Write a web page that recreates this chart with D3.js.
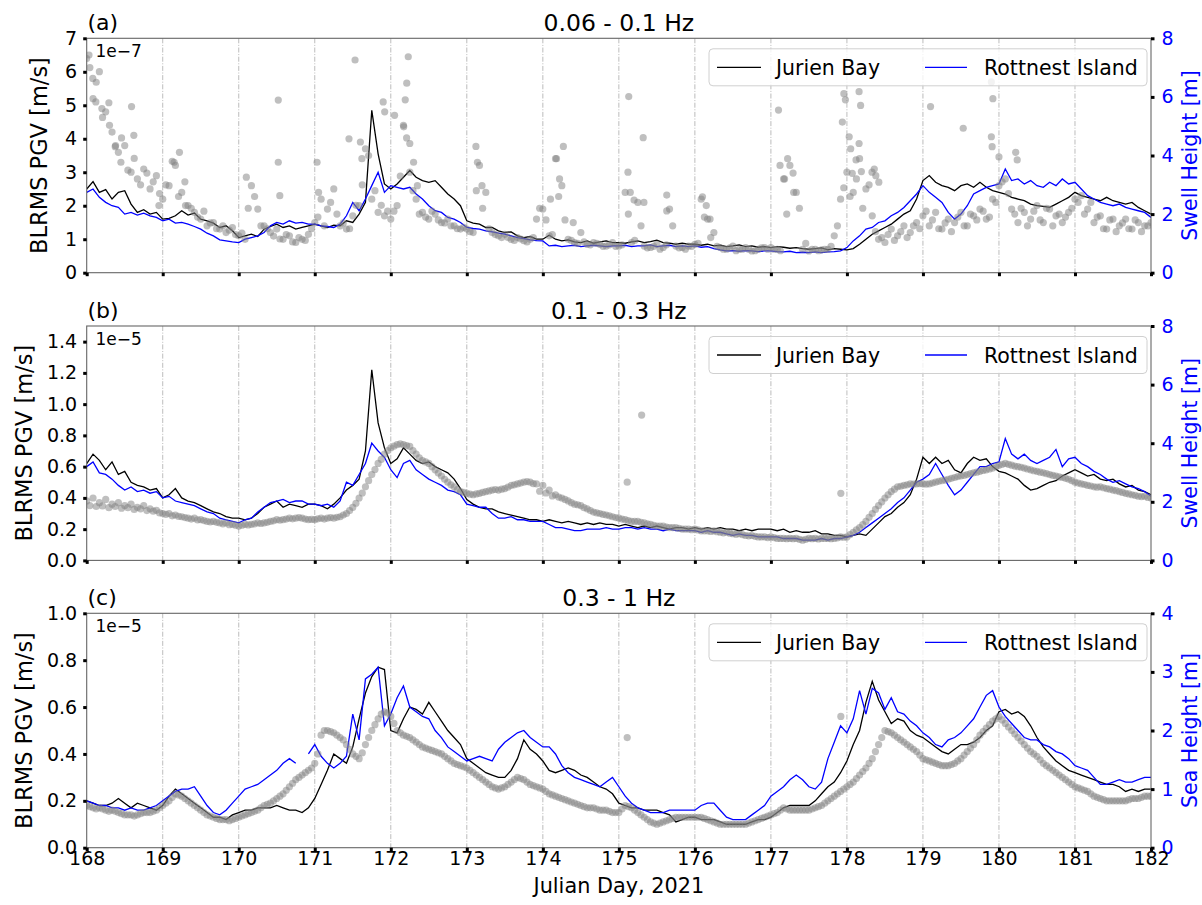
<!DOCTYPE html>
<meta charset="utf-8">
<style>
  body { margin: 0; background: #fff; }
  svg { font-family: "DejaVu Sans", sans-serif; }
  .grid line { stroke: #b4b4b4; stroke-width: 0.9; stroke-dasharray: 5, 1.6, 1, 1.6; }
  .tick line { stroke: #000; stroke-width: 3; }
  .spine { fill: none; stroke: #666; stroke-width: 1.1; }
  .jb { fill: none; stroke: #000; stroke-width: 1.3; }
  .ri { fill: none; stroke: #0000ff; stroke-width: 1.3; }
  .dot { fill: #808080; fill-opacity: 0.5; }
</style>
<svg width="1202" height="905"></svg>
<script src="https://cdn.jsdelivr.net/npm/d3@7"></script>
<script>

// ---- data ----------------------------------------------------------
// everything sampled every 2 h from day 168.0, one row per day
// (a second wave set is offset by 1 h)
var startDay = 168, endDay = 182;
var step = 1 / 12, dotShift = 1 / 24;
var dayTicks = d3.range(168, 183);

// (a) 0.06 - 0.1 Hz, PGV in 1e-7 m/s
var jbA = [
  2.50, 2.72, 2.40, 2.48, 2.20, 2.40, 2.45, 2.05, 1.80, 1.88, 1.75, 1.80,
  1.60, 1.62, 1.70, 1.85, 1.72, 1.78, 1.60, 1.55, 1.48, 1.35, 1.40, 1.25,
  1.05, 1.10, 1.15, 1.08, 1.30, 1.38, 1.45, 1.35, 1.40, 1.30, 1.35, 1.40,
  1.45, 1.40, 1.35, 1.42, 1.40, 1.55, 1.50, 1.75, 2.10, 4.85, 3.55, 2.65,
  2.50, 2.65, 2.85, 3.05, 2.85, 2.75, 2.70, 2.75, 2.55, 2.35, 2.20, 2.00,
  1.55, 1.48, 1.45, 1.35, 1.35, 1.25, 1.20, 1.22, 1.10, 1.05, 1.08, 1.00,
  1.00, 1.12, 1.00, 0.95, 0.98, 0.92, 0.90, 0.95, 0.88, 0.92, 0.95, 0.90,
  0.90, 0.88, 0.92, 0.95, 0.90, 0.93, 0.97, 0.90, 0.88, 0.85, 0.88, 0.85,
  0.85, 0.82, 0.85, 0.80, 0.82, 0.78, 0.80, 0.83, 0.78, 0.80, 0.76, 0.78,
  0.75, 0.78, 0.76, 0.73, 0.75, 0.72, 0.70, 0.72, 0.74, 0.68, 0.72, 0.70,
  0.68, 0.72, 0.85, 1.00, 1.15, 1.25, 1.35, 1.45, 1.60, 1.75, 1.85, 2.20,
  2.75, 2.90, 2.70, 2.60, 2.55, 2.45, 2.60, 2.65, 2.55, 2.70, 2.55, 2.45,
  2.40, 2.35, 2.25, 2.20, 2.15, 2.05, 2.00, 1.98, 1.95, 2.05, 2.15, 2.25,
  2.40, 2.30, 2.25, 2.20, 2.15, 2.25, 2.15, 2.10, 2.05, 2.10, 1.95, 1.85,
  1.75
];
var riA = [
  2.40, 2.50, 2.25, 2.10, 2.00, 1.95, 1.75, 1.80, 1.72, 1.78, 1.70, 1.65,
  1.55, 1.60, 1.48, 1.50, 1.45, 1.38, 1.30, 1.18, 1.10, 0.98, 0.95, 0.92,
  0.90, 1.00, 1.05, 1.10, 1.20, 1.40, 1.50, 1.45, 1.55, 1.48, 1.50, 1.45,
  1.45, 1.40, 1.38, 1.35, 1.45, 1.70, 2.10, 1.85, 2.20, 2.60, 3.00, 2.40,
  2.60, 2.55, 2.50, 2.55, 2.35, 2.20, 2.00, 1.85, 1.80, 1.65, 1.60, 1.50,
  1.35, 1.32, 1.30, 1.25, 1.22, 1.18, 1.15, 1.10, 1.05, 1.02, 0.98, 0.96,
  0.95, 0.80, 0.82, 0.78, 0.80, 0.82, 0.78, 0.80, 0.82, 0.80, 0.78, 0.80,
  0.80, 0.82, 0.78, 0.80, 0.80, 0.83, 0.78, 0.80, 0.82, 0.78, 0.80, 0.78,
  0.80, 0.76, 0.78, 0.72, 0.68, 0.65, 0.66, 0.64, 0.66, 0.65, 0.63, 0.65,
  0.65, 0.63, 0.62, 0.64, 0.60, 0.61, 0.60, 0.62, 0.60, 0.62, 0.63, 0.65,
  0.75, 0.95, 1.10, 1.30, 1.35, 1.50, 1.55, 1.70, 1.80, 1.95, 2.15, 2.35,
  2.60, 2.40, 2.25, 2.10, 1.80, 1.60, 1.75, 2.00, 2.35, 2.45, 2.55, 2.60,
  2.65, 3.10, 2.75, 2.80, 2.65, 2.75, 2.60, 2.55, 2.70, 2.60, 2.80, 2.65,
  2.70, 2.50, 2.30, 2.20, 2.10, 2.05, 2.00, 2.05, 1.95, 1.90, 1.85, 1.80,
  1.65
];
// swell height [m]
var swellA = [
  7.31, 5.94, 6.86, 5.49, 4.80, 4.11, 4.34, 3.43, 3.20, 3.54, 2.86, 3.31,
  2.51, 2.97, 3.66, 2.74, 2.29, 2.06, 1.83, 1.60, 1.71, 1.49, 1.37, 1.54,
  1.26, 1.14, 2.97, 2.17, 1.60, 1.37, 1.49, 1.14, 1.26, 1.03, 1.14, 1.31,
  1.71, 2.51, 2.17, 2.86, 1.60, 1.49, 1.94, 2.29, 4.23, 2.51, 2.06, 1.94,
  1.83, 2.29, 5.03, 3.43, 2.51, 2.06, 1.83, 2.00, 1.71, 1.83, 1.60, 1.49,
  1.49, 1.37, 3.66, 2.74, 1.37, 1.26, 1.31, 1.14, 1.20, 1.09, 1.14, 1.83,
  2.17, 1.26, 3.89, 2.97, 1.14, 1.03, 1.37, 0.97, 1.03, 0.97, 0.91, 1.03,
  0.91, 2.74, 1.03, 2.40, 0.91, 0.86, 0.97, 0.86, 2.17, 0.91, 0.86, 0.91,
  0.97, 2.51, 1.83, 1.37, 0.86, 0.80, 0.91, 0.80, 0.86, 0.74, 0.80, 0.86,
  0.86, 0.80, 3.20, 3.66, 2.74, 0.80, 0.74, 0.80, 0.78, 0.80, 1.26, 2.51,
  3.43, 2.74, 3.89, 2.86, 1.94, 1.14, 1.03, 1.49, 1.26, 1.60, 1.37, 1.71,
  1.94, 1.60, 2.06, 1.49, 1.83, 1.71, 2.06, 1.60, 1.94, 2.17, 1.83, 2.51,
  2.97, 3.20, 2.17, 1.71, 2.06, 1.83, 2.29, 1.71, 2.17, 1.94, 1.71, 2.06,
  2.51, 2.63, 2.17, 1.71, 1.94, 1.49, 1.83, 1.60, 1.83, 1.49, 1.71, 1.60,
  1.71
];
var swellA2 = [
  7.00, 6.50, 5.30, 5.80, 4.30, 4.60, 3.50, 3.90, 3.00, 3.40, 3.10, 2.70,
  3.00, 3.80, 2.60, 3.10, 2.20, 1.90, 2.10, 1.70, 1.50, 1.60, 1.45, 1.30,
  1.35, 2.20, 2.60, 1.60, 1.50, 1.25, 1.15, 1.30, 1.05, 1.20, 1.10, 1.50,
  1.90, 1.60, 2.40, 2.00, 1.70, 1.50, 2.30, 3.00, 4.00, 2.80, 2.30, 2.10,
  2.10, 3.30, 4.60, 2.80, 2.00, 1.90, 2.10, 1.80, 1.70, 1.60, 1.50, 1.55,
  1.40, 2.80, 2.20, 1.50, 1.30, 1.20, 1.20, 1.10, 1.15, 1.05, 1.20, 2.20,
  1.80, 1.30, 2.60, 1.80, 1.10, 1.00, 1.05, 0.95, 1.00, 0.90, 0.95, 0.90,
  0.95, 2.00, 1.10, 1.60, 0.85, 0.90, 0.80, 0.95, 1.60, 0.85, 0.80, 0.90,
  1.00, 1.90, 1.20, 0.90, 0.80, 0.85, 0.75, 0.80, 0.80, 0.75, 0.85, 0.80,
  0.80, 0.75, 2.00, 3.40, 2.20, 1.00, 0.80, 0.75, 0.80, 0.90, 1.60, 2.90,
  2.60, 3.20, 2.20, 3.00, 1.40, 1.20, 1.30, 1.10, 1.40, 1.20, 1.60, 1.50,
  2.10, 1.80, 1.50, 1.70, 1.40, 1.90, 1.60, 2.00, 1.80, 2.10, 1.90, 2.40,
  3.10, 2.70, 2.00, 2.20, 1.60, 2.10, 1.80, 2.20, 1.60, 2.00, 1.90, 2.20,
  2.40, 2.00, 2.40, 1.90, 1.50, 1.80, 1.40, 1.70, 1.50, 1.80, 1.40, 1.60
];
// extra wave readings off the grid [day, m]
var swellAOut = [
  [168.03, 7.43], [168.08, 6.63], [168.12, 5.83], [168.20, 5.60], [168.30, 5.03],
  [168.38, 4.34], [168.45, 3.77], [168.59, 5.67], [168.62, 4.69], [168.95, 2.29],
  [169.15, 3.77], [169.22, 4.11], [169.30, 2.29], [170.10, 3.26], [170.52, 5.89],
  [170.52, 3.77], [170.54, 2.63], [171.03, 3.77], [171.05, 2.74], [171.53, 7.26],
  [171.45, 4.57], [171.60, 4.46], [171.62, 3.89], [171.90, 5.83], [171.92, 5.49],
  [172.05, 5.37], [172.23, 7.37], [172.21, 6.47], [172.19, 5.90], [172.17, 4.98],
  [172.25, 4.41], [172.30, 3.77], [172.35, 2.97], [173.12, 4.31], [173.14, 3.77],
  [173.20, 2.97], [174.27, 4.31], [174.18, 3.89], [174.22, 3.20], [174.10, 2.51],
  [174.40, 1.71], [175.13, 6.01], [175.12, 3.43], [175.15, 2.74], [175.20, 2.48],
  [175.32, 4.61], [175.33, 2.40], [175.63, 2.65], [175.63, 2.11], [176.10, 2.59],
  [176.15, 2.29], [176.20, 1.83], [177.10, 5.55], [177.12, 3.66], [177.18, 3.20],
  [177.22, 3.89], [177.30, 2.74], [177.94, 5.14], [177.96, 6.11], [177.98, 5.90],
  [178.03, 4.64], [178.05, 4.23], [178.07, 3.39], [178.16, 6.18], [178.18, 5.71],
  [178.16, 4.41], [178.12, 3.85], [178.19, 3.45], [178.33, 3.43], [178.36, 3.54],
  [178.38, 3.31], [178.42, 3.09], [179.10, 5.67], [179.53, 4.93], [179.90, 6.51],
  [179.92, 5.94], [179.90, 4.64], [179.91, 4.30], [180.00, 3.95], [180.22, 4.11],
  [180.24, 3.85]
];

// (b) 0.1 - 0.3 Hz, PGV in 1e-5 m/s
var jbB = [
  0.62, 0.68, 0.64, 0.58, 0.63, 0.55, 0.57, 0.50, 0.48, 0.47, 0.45, 0.46,
  0.40, 0.42, 0.46, 0.40, 0.38, 0.37, 0.35, 0.33, 0.31, 0.30, 0.28, 0.27,
  0.27, 0.26, 0.27, 0.30, 0.34, 0.36, 0.38, 0.34, 0.36, 0.35, 0.34, 0.36,
  0.36, 0.35, 0.33, 0.36, 0.40, 0.45, 0.48, 0.52, 0.70, 1.22, 0.88, 0.72,
  0.62, 0.65, 0.72, 0.68, 0.64, 0.62, 0.63, 0.60, 0.58, 0.56, 0.52, 0.46,
  0.39, 0.36, 0.34, 0.33, 0.33, 0.31, 0.30, 0.29, 0.28, 0.27, 0.26, 0.26,
  0.25, 0.26, 0.25, 0.24, 0.25, 0.24, 0.23, 0.24, 0.23, 0.24, 0.23, 0.23,
  0.22, 0.23, 0.22, 0.21, 0.22, 0.21, 0.22, 0.21, 0.20, 0.21, 0.21, 0.20,
  0.21, 0.20, 0.21, 0.20, 0.21, 0.20, 0.20, 0.19, 0.20, 0.19, 0.20, 0.20,
  0.20, 0.19, 0.20, 0.18, 0.19, 0.18, 0.18, 0.19, 0.17, 0.17, 0.16, 0.16,
  0.15, 0.16, 0.17, 0.16, 0.20, 0.24, 0.28, 0.30, 0.34, 0.37, 0.42, 0.52,
  0.66, 0.62, 0.66, 0.62, 0.64, 0.58, 0.56, 0.62, 0.66, 0.64, 0.65, 0.60,
  0.57, 0.56, 0.54, 0.52, 0.48, 0.45, 0.46, 0.48, 0.50, 0.51, 0.54, 0.56,
  0.58, 0.56, 0.54, 0.55, 0.52, 0.51, 0.52, 0.49, 0.47, 0.48, 0.45, 0.44,
  0.42
];
var riB = [
  0.60, 0.63, 0.56, 0.55, 0.52, 0.48, 0.45, 0.47, 0.44, 0.45, 0.43, 0.44,
  0.40, 0.41, 0.38, 0.37, 0.36, 0.35, 0.33, 0.31, 0.30, 0.27, 0.26, 0.25,
  0.24, 0.26, 0.27, 0.31, 0.34, 0.37, 0.38, 0.39, 0.37, 0.38, 0.38, 0.36,
  0.36, 0.35, 0.36, 0.34, 0.38, 0.50, 0.48, 0.55, 0.62, 0.75, 0.70, 0.66,
  0.58, 0.53, 0.62, 0.64, 0.58, 0.55, 0.52, 0.50, 0.48, 0.45, 0.44, 0.42,
  0.36, 0.35, 0.34, 0.34, 0.30, 0.27, 0.27, 0.28, 0.26, 0.26, 0.25, 0.25,
  0.25, 0.23, 0.21, 0.21, 0.20, 0.19, 0.19, 0.20, 0.20, 0.20, 0.21, 0.20,
  0.20, 0.21, 0.21, 0.20, 0.21, 0.20, 0.20, 0.19, 0.20, 0.19, 0.19, 0.19,
  0.19, 0.18, 0.19, 0.18, 0.18, 0.17, 0.16, 0.17, 0.16, 0.16, 0.15, 0.15,
  0.15, 0.15, 0.14, 0.14, 0.14, 0.13, 0.13, 0.13, 0.14, 0.13, 0.14, 0.14,
  0.15, 0.16, 0.18, 0.21, 0.24, 0.27, 0.30, 0.33, 0.37, 0.40, 0.45, 0.50,
  0.52, 0.55, 0.62, 0.55, 0.48, 0.42, 0.45, 0.50, 0.55, 0.60, 0.60, 0.62,
  0.63, 0.78, 0.68, 0.65, 0.68, 0.64, 0.62, 0.64, 0.66, 0.71, 0.60, 0.65,
  0.66, 0.62, 0.60, 0.57, 0.55, 0.52, 0.50, 0.51, 0.49, 0.47, 0.46, 0.44,
  0.41
];
var swellB = [
  2.03, 2.13, 1.97, 2.08, 1.92, 1.97, 1.87, 1.92, 1.81, 1.87, 1.76, 1.71,
  1.60, 1.60, 1.55, 1.49, 1.44, 1.44, 1.39, 1.33, 1.33, 1.28, 1.28, 1.23,
  1.17, 1.23, 1.23, 1.28, 1.28, 1.33, 1.39, 1.39, 1.44, 1.44, 1.44, 1.39,
  1.39, 1.44, 1.44, 1.44, 1.49, 1.60, 1.81, 2.13, 2.51, 2.93, 3.31, 3.63,
  3.84, 3.95, 3.95, 3.89, 3.63, 3.41, 3.31, 3.09, 2.88, 2.67, 2.51, 2.35,
  2.29, 2.24, 2.29, 2.35, 2.40, 2.40, 2.45, 2.56, 2.61, 2.67, 2.67, 2.61,
  2.56, 2.40, 2.24, 2.13, 2.03, 1.92, 1.87, 1.76, 1.65, 1.60, 1.55, 1.49,
  1.44, 1.39, 1.33, 1.33, 1.28, 1.23, 1.17, 1.17, 1.12, 1.12, 1.07, 1.07,
  1.07, 1.01, 1.01, 1.01, 0.96, 0.96, 0.91, 0.91, 0.85, 0.85, 0.80, 0.80,
  0.80, 0.75, 0.75, 0.75, 0.75, 0.69, 0.75, 0.75, 0.75, 0.75, 0.75, 0.80,
  0.80, 0.96, 1.12, 1.33, 1.60, 1.87, 2.13, 2.35, 2.51, 2.56, 2.61, 2.61,
  2.61, 2.61, 2.67, 2.72, 2.77, 2.83, 2.88, 2.93, 2.99, 3.04, 3.09, 3.15,
  3.25, 3.31, 3.25, 3.20, 3.15, 3.09, 3.04, 2.99, 2.93, 2.88, 2.83, 2.77,
  2.67, 2.61, 2.56, 2.51, 2.51, 2.45, 2.40, 2.35, 2.29, 2.24, 2.19, 2.19,
  2.13
];
var swellB2 = [
  1.87, 1.84, 1.86, 1.80, 1.84, 1.78, 1.80, 1.74, 1.76, 1.70, 1.68, 1.62,
  1.57, 1.52, 1.50, 1.46, 1.41, 1.38, 1.36, 1.31, 1.30, 1.25, 1.22, 1.20,
  1.20, 1.21, 1.25, 1.26, 1.30, 1.35, 1.37, 1.41, 1.42, 1.46, 1.41, 1.40,
  1.42, 1.41, 1.46, 1.47, 1.55, 1.70, 1.95, 2.30, 2.72, 3.10, 3.45, 3.75,
  3.90, 3.98, 3.92, 3.75, 3.50, 3.36, 3.20, 2.98, 2.77, 2.58, 2.42, 2.32,
  2.26, 2.27, 2.32, 2.37, 2.42, 2.43, 2.50, 2.58, 2.64, 2.69, 2.62, 2.36,
  2.30, 2.20, 2.16, 2.08, 1.97, 1.90, 1.80, 1.70, 1.62, 1.57, 1.52, 1.46,
  1.41, 1.36, 1.33, 1.30, 1.25, 1.20, 1.17, 1.14, 1.12, 1.09, 1.07, 1.05,
  1.04, 1.01, 0.99, 0.98, 0.94, 0.93, 0.89, 0.88, 0.84, 0.82, 0.80, 0.78,
  0.78, 0.75, 0.74, 0.74, 0.72, 0.72, 0.74, 0.73, 0.75, 0.74, 0.77, 0.79,
  0.88, 1.04, 1.22, 1.47, 1.74, 2.00, 2.24, 2.43, 2.53, 2.58, 2.60, 2.62,
  2.60, 2.64, 2.70, 2.74, 2.80, 2.86, 2.90, 2.96, 3.01, 3.07, 3.12, 3.20,
  3.28, 3.28, 3.22, 3.18, 3.12, 3.06, 3.01, 2.96, 2.90, 2.85, 2.80, 2.72,
  2.64, 2.59, 2.54, 2.50, 2.48, 2.43, 2.38, 2.32, 2.27, 2.22, 2.18, 2.15
];
var swellBOut = [[175.30, 4.96], [175.11, 2.67], [177.92, 2.29]];

// (c) 0.3 - 1 Hz, PGV in 1e-5 m/s
var jbC = [
  0.20, 0.19, 0.18, 0.18, 0.19, 0.21, 0.19, 0.17, 0.19, 0.18, 0.17, 0.16,
  0.18, 0.22, 0.25, 0.23, 0.21, 0.19, 0.17, 0.15, 0.13, 0.13, 0.12, 0.14,
  0.15, 0.16, 0.16, 0.17, 0.17, 0.17, 0.18, 0.17, 0.16, 0.16, 0.15, 0.17,
  0.21, 0.27, 0.33, 0.40, 0.38, 0.36, 0.43, 0.55, 0.66, 0.73, 0.77, 0.76,
  0.50, 0.49, 0.55, 0.60, 0.59, 0.57, 0.62, 0.58, 0.54, 0.50, 0.47, 0.44,
  0.38, 0.36, 0.34, 0.32, 0.31, 0.30, 0.30, 0.33, 0.38, 0.46, 0.42, 0.40,
  0.37, 0.33, 0.32, 0.33, 0.34, 0.33, 0.31, 0.30, 0.28, 0.26, 0.25, 0.23,
  0.19, 0.18, 0.17, 0.17, 0.16, 0.16, 0.16, 0.15, 0.14, 0.11, 0.12, 0.13,
  0.13, 0.12, 0.12, 0.12, 0.11, 0.10, 0.10, 0.10, 0.10, 0.11, 0.12, 0.12,
  0.13, 0.15, 0.17, 0.18, 0.18, 0.18, 0.18, 0.20, 0.23, 0.26, 0.28, 0.32,
  0.37, 0.44, 0.50, 0.62, 0.71, 0.63, 0.58, 0.53, 0.55, 0.54, 0.50, 0.48,
  0.47, 0.45, 0.43, 0.41, 0.40, 0.42, 0.44, 0.44, 0.45, 0.47, 0.50, 0.52,
  0.58, 0.59, 0.57, 0.58, 0.56, 0.52, 0.47, 0.43, 0.40, 0.37, 0.35, 0.33,
  0.32, 0.31, 0.30, 0.29, 0.28, 0.27, 0.27, 0.26, 0.24, 0.25, 0.24, 0.25,
  0.25
];
var riC = [
  0.20, 0.19, 0.18, 0.18, 0.17, 0.17, 0.16, 0.17, 0.16, 0.16, 0.17, 0.18,
  0.20, 0.22, 0.24, 0.25, 0.25, 0.26, 0.22, 0.18, 0.15, 0.14, 0.16, 0.19,
  0.22, 0.25, 0.26, 0.27, 0.29, 0.31, 0.33, 0.36, 0.38, 0.36, null, 0.40,
  0.44, 0.39, 0.36, 0.34, 0.36, 0.39, 0.57, 0.46, 0.72, 0.74, 0.77, 0.52,
  0.57, 0.64, 0.69, 0.60, 0.58, 0.56, 0.55, 0.50, 0.47, 0.43, 0.41, 0.39,
  0.37, 0.38, 0.39, 0.38, 0.37, 0.42, 0.45, 0.47, 0.49, 0.50, 0.47, 0.45,
  0.43, 0.43, 0.40, 0.35, 0.32, 0.30, 0.29, 0.28, 0.27, 0.26, 0.28, 0.30,
  0.26, 0.22, 0.19, 0.17, 0.16, 0.15, 0.15, 0.15, 0.16, 0.16, 0.16, 0.16,
  0.16, 0.18, 0.19, 0.19, 0.16, 0.13, 0.12, 0.12, 0.12, 0.14, 0.16, 0.18,
  0.22, 0.24, 0.26, 0.29, 0.31, 0.29, 0.26, 0.25, 0.28, 0.38, 0.45, 0.52,
  0.49, 0.55, 0.67, 0.57, 0.68, 0.66, 0.59, 0.64, 0.58, 0.57, 0.54, 0.52,
  0.49, 0.47, 0.44, 0.43, 0.46, 0.47, 0.49, 0.52, 0.55, 0.60, 0.65, 0.67,
  0.60, 0.56, 0.53, 0.50, 0.47, 0.46, 0.46, 0.44, 0.43, 0.41, 0.40, 0.38,
  0.35, 0.34, 0.33, 0.30, 0.27, 0.27, 0.28, 0.29, 0.28, 0.28, 0.29, 0.30,
  0.30
];
// sea height [m]
var seaC = [
  0.72, 0.68, 0.68, 0.64, 0.64, 0.60, 0.56, 0.56, 0.56, 0.60, 0.60, 0.64,
  0.72, 0.80, 0.92, 0.88, 0.80, 0.72, 0.64, 0.56, 0.52, 0.48, 0.48, 0.48,
  0.52, 0.56, 0.60, 0.64, 0.72, 0.76, 0.84, 0.92, 1.04, 1.16, 1.24, 1.32,
  1.44, 1.92, 2.00, 1.96, 1.88, 1.76, 1.60, 1.52, 1.76, 2.00, 2.20, 2.32,
  2.24, 2.00, 1.92, 1.88, 1.80, 1.72, 1.68, 1.64, 1.60, 1.52, 1.44, 1.40,
  1.36, 1.28, 1.20, 1.12, 1.04, 1.00, 1.04, 1.12, 1.20, 1.16, 1.08, 1.04,
  1.00, 0.92, 0.88, 0.84, 0.80, 0.76, 0.72, 0.68, 0.68, 0.64, 0.64, 0.60,
  0.60, 0.72, 0.68, 0.60, 0.52, 0.44, 0.40, 0.44, 0.48, 0.52, 0.52, 0.52,
  0.52, 0.52, 0.48, 0.44, 0.40, 0.40, 0.40, 0.40, 0.40, 0.44, 0.48, 0.52,
  0.56, 0.60, 0.68, 0.64, 0.64, 0.64, 0.64, 0.68, 0.72, 0.80, 0.88, 0.96,
  1.04, 1.12, 1.24, 1.36, 1.52, 1.76, 2.00, 1.96, 1.88, 1.80, 1.72, 1.64,
  1.52, 1.48, 1.44, 1.40, 1.40, 1.44, 1.52, 1.64, 1.76, 1.92, 2.04, 2.16,
  2.24, 2.12, 2.00, 1.88, 1.76, 1.64, 1.56, 1.44, 1.36, 1.28, 1.20, 1.12,
  1.04, 1.00, 0.96, 0.88, 0.84, 0.80, 0.80, 0.80, 0.80, 0.84, 0.84, 0.88,
  0.88
];
var seaC2 = [
  0.70, 0.66, 0.66, 0.62, 0.62, 0.58, 0.56, 0.54, 0.58, 0.60, 0.62, 0.68,
  0.76, 0.86, 0.90, 0.84, 0.76, 0.68, 0.60, 0.54, 0.50, 0.48, 0.46, 0.50,
  0.54, 0.58, 0.62, 0.68, 0.74, 0.80, 0.88, 0.98, 1.10, 1.20, 1.28, 1.36,
  1.60, 2.00, 1.98, 1.92, 1.84, 1.68, 1.56, 1.62, 1.88, 2.10, 2.28, 2.30,
  2.12, 1.96, 1.90, 1.84, 1.76, 1.70, 1.66, 1.62, 1.56, 1.48, 1.42, 1.38,
  1.32, 1.24, 1.16, 1.08, 1.02, 1.02, 1.08, 1.16, 1.18, 1.12, 1.06, 1.02,
  0.96, 0.90, 0.86, 0.82, 0.78, 0.74, 0.70, 0.68, 0.66, 0.64, 0.62, 0.60,
  0.66, 0.70, 0.64, 0.56, 0.48, 0.42, 0.42, 0.46, 0.50, 0.52, 0.52, 0.52,
  0.52, 0.50, 0.46, 0.42, 0.40, 0.40, 0.40, 0.40, 0.42, 0.46, 0.50, 0.54,
  0.58, 0.64, 0.66, 0.64, 0.64, 0.64, 0.66, 0.70, 0.76, 0.84, 0.92, 1.00,
  1.08, 1.18, 1.30, 1.44, 1.64, 1.88, 1.98, 1.92, 1.84, 1.76, 1.68, 1.58,
  1.50, 1.46, 1.42, 1.40, 1.42, 1.48, 1.58, 1.70, 1.84, 1.98, 2.10, 2.20,
  2.18, 2.06, 1.94, 1.82, 1.70, 1.60, 1.50, 1.40, 1.32, 1.24, 1.16, 1.08,
  1.02, 0.98, 0.92, 0.86, 0.82, 0.80, 0.80, 0.80, 0.82, 0.84, 0.86, 0.88
];
var seaCOut = [[175.11, 1.88], [177.92, 2.24]];

// ---- layout ---------------------------------------------------------
var svg = d3.select("svg"),
    left = 86.7, right = 1151,
    panelH = 234.4;

var x = d3.scaleLinear().domain([startDay, endDay]).range([left, right]);

var panels = [
  { tag: "(a)", title: "0.06 - 0.1 Hz", top: 38.3, lMax: 7, lTicks: d3.range(0, 8), lFmt: d3.format("d"),
    offset: "1e\u22127", rMax: 8, rTicks: [0, 2, 4, 6, 8], rLabel: "Swell Height [m]", yLabX: 47,
    jb: jbA, ri: riA, dots: swellA, dots2: swellA2, extra: swellAOut, xLabels: false },
  { tag: "(b)", title: "0.1 - 0.3 Hz", top: 326, lMax: 1.5, lTicks: d3.range(0, 1.41, 0.2), lFmt: d3.format(".1f"),
    offset: "1e\u22125", rMax: 8, rTicks: [0, 2, 4, 6, 8], rLabel: "Swell Height [m]", yLabX: 32,
    jb: jbB, ri: riB, dots: swellB, dots2: swellB2, extra: swellBOut, xLabels: false },
  { tag: "(c)", title: "0.3 - 1 Hz", top: 613.3, lMax: 1.0, lTicks: d3.range(0, 1.01, 0.2), lFmt: d3.format(".1f"),
    offset: "1e\u22125", rMax: 4, rTicks: [0, 1, 2, 3, 4], rLabel: "Sea Height [m]", yLabX: 32,
    jb: jbC, ri: riC, dots: seaC, dots2: seaC2, extra: seaCOut, xLabels: true }
];

panels.forEach(function(p) {
  var bottom = p.top + panelH;
  var yL = d3.scaleLinear().domain([0, p.lMax]).range([bottom, p.top]);
  var yR = d3.scaleLinear().domain([0, p.rMax]).range([bottom, p.top]);
  var g = svg.append("g");

  // dash-dot day grid
  g.append("g").attr("class", "grid")
    .selectAll("line")
    .data(dayTicks.slice(1, -1))
    .enter().append("line")
    .attr("x1", function(d) { return x(d); })
    .attr("x2", function(d) { return x(d); })
    .attr("y1", p.top).attr("y2", bottom);

  var clip = "clip" + p.tag.charAt(1);
  g.append("clipPath").attr("id", clip)
    .append("rect").attr("x", left).attr("y", p.top).attr("width", right - left).attr("height", panelH);

  var line = d3.line()
    .defined(function(d) { return d != null; })
    .x(function(d, i) { return x(startDay + i * step); })
    .y(function(d) { return yL(d); });

  var plot = g.append("g").attr("clip-path", "url(#" + clip + ")");
  plot.append("path").attr("class", "jb").attr("d", line(p.jb));
  plot.append("path").attr("class", "ri").attr("d", line(p.ri));

  // wave heights (right axis) sit on top, like a twin axis
  var pts = p.dots.map(function(v, i) { return [startDay + i * step, v]; })
    .concat(p.dots2.map(function(v, i) { return [startDay + dotShift + i * step, v]; }))
    .concat(p.extra);
  plot.selectAll(".dot")
    .data(pts)
    .enter().append("circle")
    .attr("class", "dot")
    .attr("r", 3.6)
    .attr("cx", function(d) { return x(d[0]); })
    .attr("cy", function(d) { return yR(d[1]); });

  // spines
  g.append("rect").attr("class", "spine")
    .attr("x", left).attr("y", p.top).attr("width", right - left).attr("height", panelH);

  // axes
  var ax = g.append("g").attr("transform", "translate(" + left + ",0)")
    .call(d3.axisLeft(yL).tickValues(p.lTicks).tickFormat(p.lFmt).tickSize(3.5).tickPadding(6));
  ax.selectAll("text").attr("font-size", 19).attr("fill", "#000").style("font-family", "DejaVu Sans");

  var axr = g.append("g").attr("transform", "translate(" + right + ",0)")
    .call(d3.axisRight(yR).tickValues(p.rTicks).tickFormat(d3.format("d")).tickSize(3.5).tickPadding(7));
  axr.selectAll("text").attr("font-size", 19).attr("fill", "#0000ff").style("font-family", "DejaVu Sans");

  var axb = g.append("g").attr("transform", "translate(0," + bottom + ")")
    .call(d3.axisBottom(x).tickValues(dayTicks).tickFormat(p.xLabels ? d3.format("d") : "").tickSize(3.5).tickPadding(0.5));
  axb.selectAll("text").attr("font-size", 19).attr("fill", "#000").style("font-family", "DejaVu Sans");

  [ax, axr, axb].forEach(function(a) { a.select(".domain").remove(); });

  // texts
  g.append("text").attr("x", 87.5).attr("y", p.top - 8.5)
    .attr("font-size", 22).text(p.tag);
  g.append("text").attr("x", (left + right) / 2).attr("y", p.top - 7.5)
    .attr("text-anchor", "middle").attr("font-size", 23.5).text(p.title);
  g.append("text").attr("x", 95.5).attr("y", p.top + 19)
    .attr("font-size", 17).text(p.offset);

  g.append("text")
    .attr("transform", "translate(" + p.yLabX + "," + (p.top + panelH / 2) + ") rotate(-90)")
    .attr("text-anchor", "middle").attr("font-size", 22.5).text("BLRMS PGV [m/s]");
  g.append("text")
    .attr("transform", "translate(1196.5," + (p.top + panelH / 2) + ") rotate(-90)")
    .attr("text-anchor", "middle").attr("font-size", 20.5).attr("fill", "#0000ff").text(p.rLabel);

  // legend
  var lg = g.append("g").attr("transform", "translate(709," + (p.top + 10.5) + ")");
  lg.append("rect").attr("width", 438).attr("height", 37).attr("rx", 4)
    .attr("fill", "#fff").attr("fill-opacity", 0.8).attr("stroke", "#d0d0d0");
  var items = [
    { cls: "jb", name: "Jurien Bay", x0: 8, x1: 52, tx: 67 },
    { cls: "ri", name: "Rottnest Island", x0: 216, x1: 258, tx: 275 }
  ];
  items.forEach(function(it) {
    lg.append("line").attr("class", it.cls)
      .attr("x1", it.x0).attr("x2", it.x1).attr("y1", 18.5).attr("y2", 18.5);
    lg.append("text").attr("x", it.tx).attr("y", 26)
      .attr("font-size", 20.5).text(it.name);
  });
});

svg.append("text")
  .attr("x", (left + right) / 2).attr("y", 893)
  .attr("text-anchor", "middle").attr("font-size", 20.8)
  .text("Julian Day, 2021");

</script>
